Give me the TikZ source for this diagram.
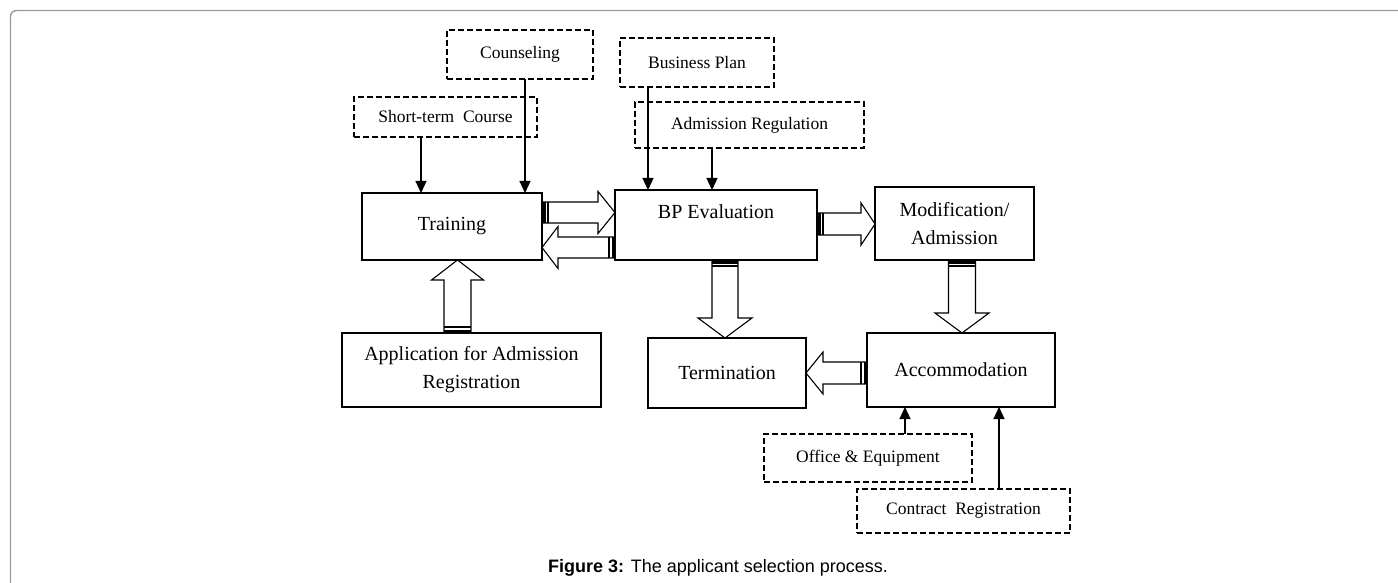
\documentclass[tikz,border=0pt]{standalone}
\usepackage{fontspec}
\setmainfont{Liberation Serif}
\newfontfamily\capfont{Liberation Sans}
\usetikzlibrary{calc,arrows.meta}

% hollow block arrow with a striped tail, drawn from #1 (tail) to #2 (tip)
% #3 half shaft width, #4 half head width, #5 head length
\newcommand\blockarrow[5]{%
  \path let \p1=(#1), \p2=(#2) in \pgfextra{%
    \pgfmathsetmacro\tmpang{atan2(\y2-\y1,\x2-\x1)}%
    \pgfmathsetmacro\tmplen{veclen(\x2-\x1,\y2-\y1)}%
    \pgfmathsetmacro\tmpx{\x1}%
    \pgfmathsetmacro\tmpy{\y1}%
    \xdef\baang{\tmpang}\xdef\balen{\tmplen}\xdef\bax{\tmpx}\xdef\bay{\tmpy}};
  \begin{scope}[shift={(\bax pt,\bay pt)}, rotate=\baang]
    \draw[blockline] (0,-#3) -- ({\balen-#5},-#3) -- ({\balen-#5},-#4) -- (\balen,0)
      -- ({\balen-#5},#4) -- ({\balen-#5},#3) -- (0,#3) -- cycle;
    \fill (0,-#3) rectangle (3.5,#3);
    \draw[line width=1.1pt] (6,-#3) -- (6,#3);
  \end{scope}}

\tikzset{
  mainbox/.style={draw, line width=1.3pt, inner sep=0pt, outer sep=0pt,
    font=\fontsize{20}{28}\selectfont, align=center},
  dashbox/.style={draw, dash pattern=on 6pt off 3pt, line width=1.2pt,
    inner sep=0pt, outer sep=0pt, font=\fontsize{17.5}{20}\selectfont},
  blockline/.style={draw, fill=white, line width=1.1pt, line join=miter},
  thinarrow/.style={line width=1.1pt, -{Triangle[length=12pt,width=11pt]}},
  frameline/.style={draw=black!40, line width=1.4pt, rounded corners=6pt},
}

\begin{document}
\begin{tikzpicture}[x=1pt, y=1pt]
\useasboundingbox (0,0) rectangle (1398,-583);
\draw[frameline] (10.5,-583) -- (10.5,-10.5) -- (1398,-10.5);

% process boxes
\node[mainbox, minimum width=180pt, minimum height=67pt] (train) at (452,-226.5) {Training};
\node[mainbox, minimum width=202pt, minimum height=70pt] (bp) at (716,-225) {};
\node[font=\fontsize{20}{28}\selectfont] (bptext) at ([yshift=13pt]bp.center) {BP Evaluation};
\node[mainbox, minimum width=159pt, minimum height=73pt] (mod) at (954.5,-223.5) {Modification/\\Admission};
\node[mainbox, minimum width=158pt, minimum height=70pt] (term) at (727,-373) {Termination};
\node[mainbox, minimum width=188pt, minimum height=74pt] (acc) at (961,-370) {Accommodation};
\node[mainbox, minimum width=259pt, minimum height=74pt] (app) at (471.5,-370) {Application for Admission\\Registration};

% input boxes
\node[dashbox, minimum width=183pt, minimum height=40pt] (stc) at (445.5,-117) {Short-term\ \ Course};
\node[dashbox, minimum width=146pt, minimum height=49pt] (coun) at (520,-54.5) {Counseling};
\node[dashbox, minimum width=154pt, minimum height=49pt] (bplan) at (697,-62.5) {Business Plan};
\node[dashbox, minimum width=229pt, minimum height=46pt] (adreg) at (749.5,-125) {Admission Regulation};
\node[dashbox, minimum width=208pt, minimum height=48pt] (office) at (868,-458) {Office \& Equipment};
\node[dashbox, minimum width=213pt, minimum height=44pt] (contract) at (963.5,-511) {Contract\ \ Registration};

% thin input arrows
\coordinate (s1) at ([xshift=-24.5pt]stc.south);
\coordinate (s2) at ([xshift=5pt]coun.south);
\coordinate (s3) at ([xshift=-49pt]bplan.south);
\coordinate (s4) at ([xshift=-37.5pt]adreg.south);
\coordinate (s5) at ([xshift=37pt]office.north);
\coordinate (s6) at ([xshift=35.5pt]contract.north);
\draw[thinarrow] (s1) -- (s1 |- train.north);
\draw[thinarrow] (s2) -- (s2 |- train.north);
\draw[thinarrow] (s3) -- (s3 |- bp.north);
\draw[thinarrow] (s4) -- (s4 |- bp.north);
\draw[thinarrow] (s5) -- (s5 |- acc.south);
\draw[thinarrow] (s6) -- (s6 |- acc.south);

% block arrows between the stages
\coordinate (t1) at ([yshift=14pt]train.east);
\coordinate (t2) at ([yshift=-21pt]train.east);
\coordinate (t3) at ([yshift=1pt]bp.east);
\coordinate (t4) at ([xshift=9pt]bp.south);
\coordinate (t5) at ([xshift=7.5pt]mod.south);
\coordinate (t6) at ([yshift=-3pt]acc.west);
\coordinate (t7) at ([xshift=-14pt]app.north);
\blockarrow{t1}{t1 -| bp.west}{10.5}{21}{17}
\blockarrow{t2 -| bp.west}{t2}{10.5}{21}{16}
\blockarrow{t3}{t3 -| mod.west}{11}{21}{14}
\blockarrow{t4}{t4 |- term.north}{13}{27}{20}
\blockarrow{t5}{t5 |- acc.north}{13.5}{27}{20}
\blockarrow{t6}{t6 -| term.east}{11}{21}{17}
\blockarrow{t7}{t7 |- train.south}{13.5}{26}{20}

% caption
\node[font=\capfont\fontsize{18}{20}\selectfont] (cap) at (718,-568)
  {\textbf{Figure 3:} The applicant selection process.};
\end{tikzpicture}
\end{document}
